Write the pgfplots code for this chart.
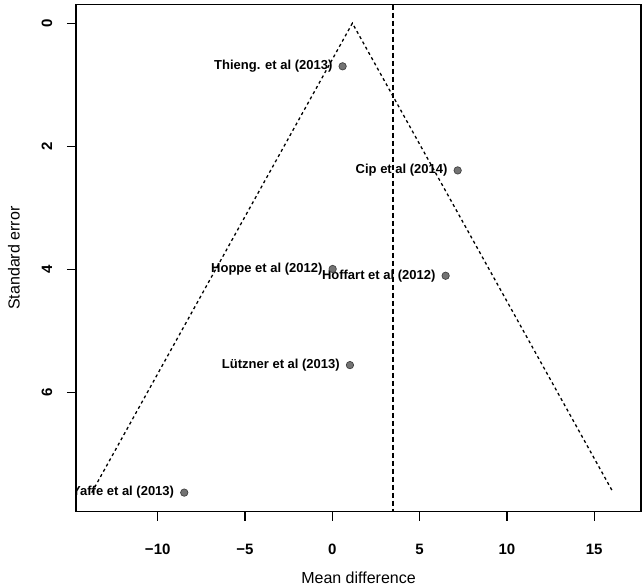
\documentclass[border=0pt]{standalone}
\usepackage{fontspec}
\setmainfont{Liberation Sans}
\usepackage{pgfplots}
\pgfplotsset{compat=1.18}
\usetikzlibrary{calc}

\tikzset{lab/.style={anchor=east, inner sep=0pt, xshift=-10bp,
  font=\bfseries\fontsize{13bp}{15bp}\selectfont},
  ylab/.style={rotate=90, anchor=center, inner sep=0pt,
  font=\bfseries\fontsize{15bp}{17bp}\selectfont}}

\begin{document}
\begin{tikzpicture}
\begin{axis}[
  scale only axis, width=565bp, height=507bp,
  xmin=-14.68, xmax=17.68,
  ymin=-0.30, ymax=7.93, y dir=reverse,
  xtick={-10,-5,0,5,10,15},
  xticklabels={−10,−5,0,5,10,15},
  ytick={0,2,4,6},
  yticklabels={},
  tick align=outside, tick pos=left,
  major tick length=9bp,
  axis line style={line width=1.4bp},
  every tick/.style={black, line width=1.3bp},
  tick label style={font=\bfseries\fontsize{15bp}{17bp}\selectfont},
  xticklabel style={anchor=center, yshift=-29bp},
  xlabel={Mean difference},
  ylabel={Standard error},
  label style={font=\fontsize{16bp}{18bp}\selectfont},
  xlabel style={at={(axis description cs:0.5,0)}, anchor=center, yshift=-66bp},
  ylabel style={at={(axis description cs:0,0.5)}, anchor=center, rotate=0, yshift=62bp},
  clip=true,
]

% funnel (fixed effect, 95% limits)
\addplot[black, line width=1.3bp, dash pattern=on 3bp off 3bp]
  coordinates {(-13.78,7.62) (1.15,0) (16.09,7.62)};

% summary estimate
\addplot[black, line width=1.8bp, dash pattern=on 5bp off 3bp]
  coordinates {(3.46,-0.30) (3.46,7.93)};

% studies
\addplot[only marks, mark=*, mark size=3.7bp,
         mark options={fill=black!55, draw=black!75, line width=0.7bp}]
  coordinates {(0.59,0.70) (7.18,2.39) (0.02,3.99) (6.49,4.10)
               (1.01,5.55) (-8.48,7.62)};

\begin{scope}
\clip (axis cs:-14.68,-0.30) rectangle (axis cs:17.68,7.93);
\node[lab] at (axis cs:0.59,0.70) {Thieng. et al (2013)};
\node[lab] at (axis cs:7.18,2.39) {Cip et al (2014)};
\node[lab] at (axis cs:0.02,3.99) {Hoppe et al (2012)};
\node[lab] at (axis cs:6.49,4.10) {Hoffart et al (2012)};
\node[lab] at (axis cs:1.01,5.55) {Lützner et al (2013)};
\node[lab] at (axis cs:-8.48,7.62) {Yaffe et al (2013)};
\end{scope}

\coordinate (t0) at (axis cs:-14.68,0);
\coordinate (t2) at (axis cs:-14.68,2);
\coordinate (t4) at (axis cs:-14.68,4);
\coordinate (t6) at (axis cs:-14.68,6);
\coordinate (bl) at (axis cs:-14.68,7.93);
\coordinate (tr) at (axis cs:17.68,-0.30);
\end{axis}
% y tick labels, set parallel to the axis
\node[ylab] at ($(t0)+(-29bp,0)$) {0};
\node[ylab] at ($(t2)+(-29bp,0)$) {2};
\node[ylab] at ($(t4)+(-29bp,0)$) {4};
\node[ylab] at ($(t6)+(-29bp,0)$) {6};
\pgfresetboundingbox
\path[use as bounding box] ($(bl)+(-76bp,-76.3bp)$) rectangle ($(tr)+(2bp,4.7bp)$);
\end{tikzpicture}
\end{document}
